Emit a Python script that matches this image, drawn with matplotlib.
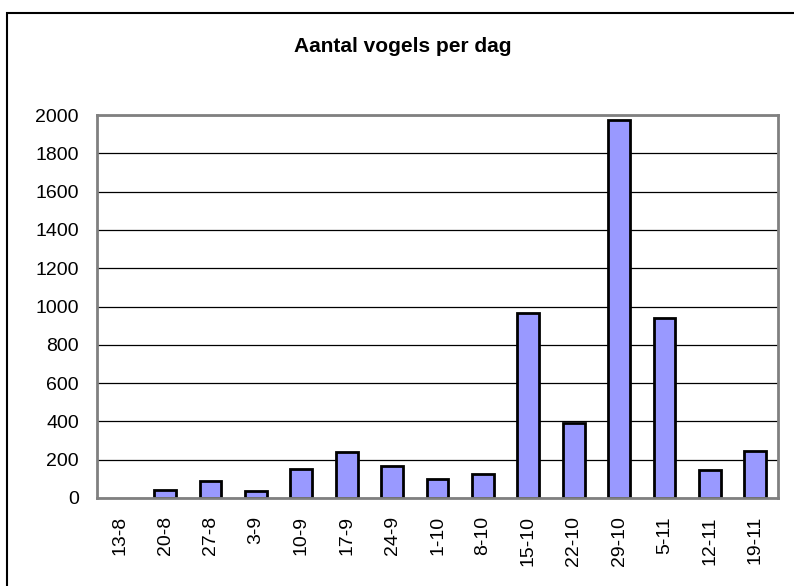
import numpy as np
import matplotlib.pyplot as plt
from matplotlib.patches import Rectangle

plt.rcParams['font.family'] = ['Liberation Sans', 'DejaVu Sans']

# weeks (day-month) and number of birds
dates  = ["13-8", "20-8", "27-8", "3-9", "10-9", "17-9", "24-9", "1-10",
          "8-10", "15-10", "22-10", "29-10", "5-11", "12-11", "19-11"]
counts = [0, 40, 90, 35, 150, 240, 165, 100, 125, 968, 390, 1975, 938, 148, 245]

fig = plt.figure(figsize=(7.94, 5.86), dpi=100)

# outer chart frame (runs off the right and bottom edge)
fig.patches.append(Rectangle((7/794, -0.05), 1.0, 1 - 13/586 + 0.05,
                             transform=fig.transFigure, fill=False,
                             edgecolor="black", linewidth=1.5))

ax = fig.add_axes([97/794, 88/586, (778-97)/794, (498-115)/586])
x = np.arange(len(dates))
# empty weeks get no outline (nothing visible in the original)
edges = ["black" if c > 0 else "none" for c in counts]
ax.bar(x, counts, width=0.48, color="#9999FF", edgecolor=edges,
       linewidth=2.0, zorder=2)

ax.set_xlim(-0.5, len(dates) - 0.5)
ax.set_ylim(0, 2000)
ax.set_yticks(np.arange(0, 2001, 200))
ax.set_xticks(x)
ax.set_xticklabels(dates, rotation=90)
ax.tick_params(axis="both", length=0, labelsize=14)
ax.tick_params(axis="y", pad=13)
ax.tick_params(axis="x", pad=13)
ax.yaxis.grid(True, color="black", linewidth=0.9, zorder=0)
ax.set_axisbelow(True)
for s in ax.spines.values():
    s.set_color("#808080")
    s.set_linewidth(2)
    s.set_zorder(3)

fig.text(403/794, 1 - 47/586, "Aantal vogels per dag", ha="center",
         va="center", fontsize=15, fontweight="bold")

fig.savefig("out.png", dpi=100)
